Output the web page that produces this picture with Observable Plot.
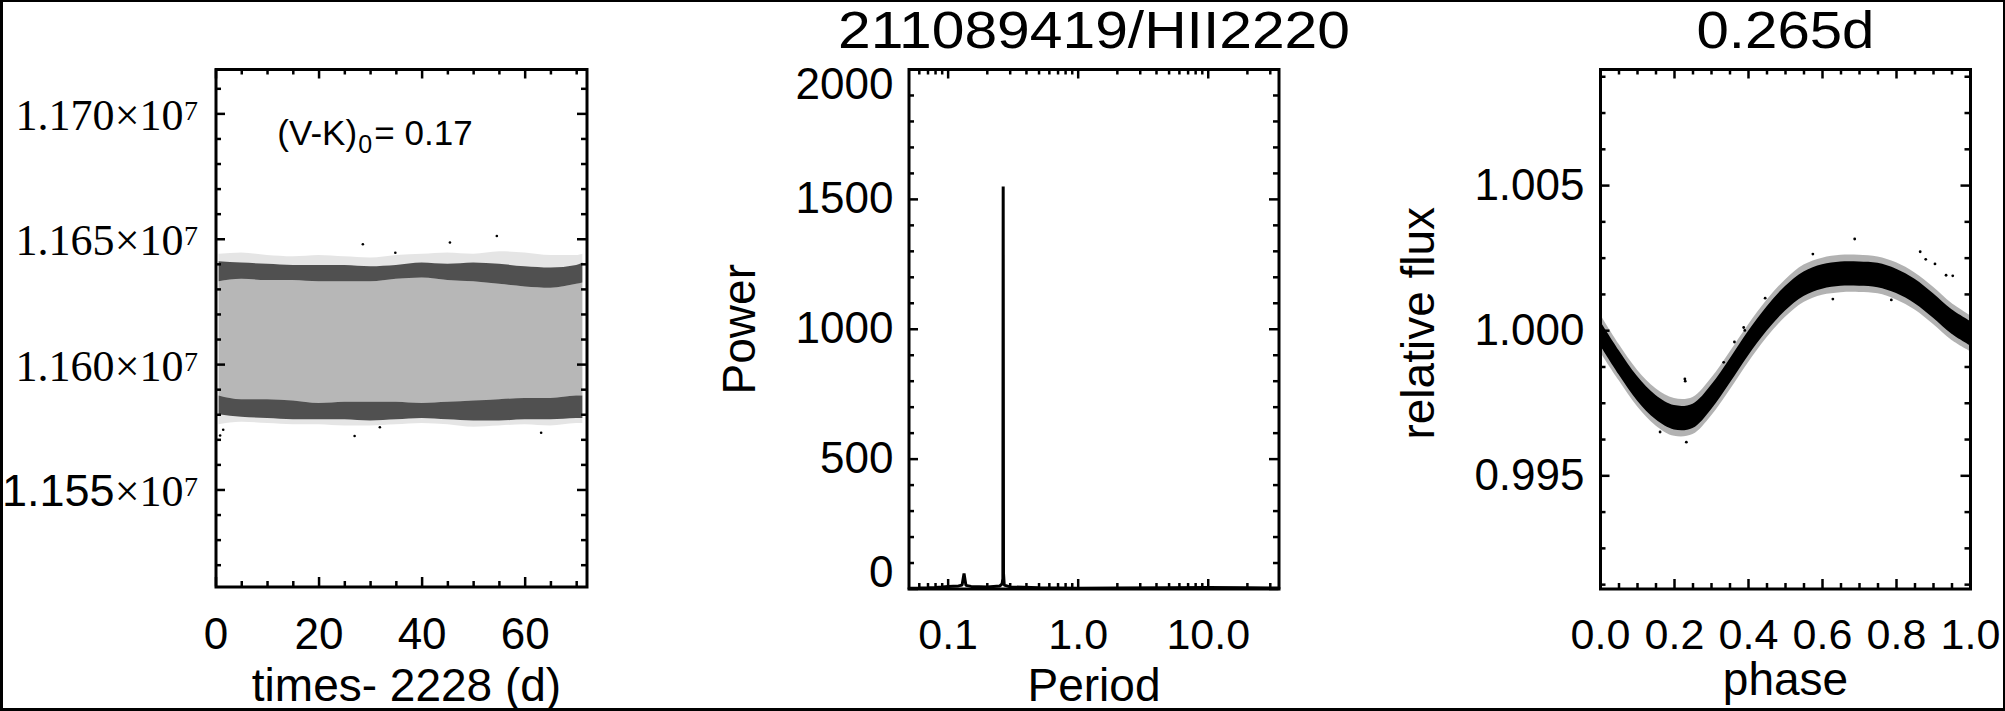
<!DOCTYPE html>
<html><head><meta charset="utf-8">
<script src="https://cdn.jsdelivr.net/npm/d3@7"></script>
<script src="https://cdn.jsdelivr.net/npm/@observablehq/plot@0.6"></script>
<style>
html,body{margin:0;padding:0;background:#fff;}
#wrap{position:relative;width:2005px;height:711px;background:#fff;overflow:hidden;}
#wrap svg{position:absolute;left:0;top:0;}
#border{position:absolute;left:0;top:0;width:2005px;height:711px;box-sizing:border-box;border:2px solid #000;border-left-width:3px;border-bottom-width:3px;pointer-events:none;z-index:5;}
</style></head><body>
<div id="wrap"><div id="border"></div></div>
<script>
// ---------- Panel 1: light curve (flux vs time - 2228 d) ----------
const lcXDomain = [0, 72];
const lcYDomain = [11511300, 11717700];
const lcTime     = [0.6, 5, 10, 15, 20, 25, 30, 35, 40, 45, 50, 55, 60, 65, 70, 71.2];
const lcOuterTop = [11644000, 11644500, 11643500, 11643000, 11643500, 11643000, 11642500, 11643500, 11644000, 11644500, 11644000, 11645000, 11644500, 11643500, 11643500, 11644000];
const lcTopHi    = [11641000, 11640500, 11640000, 11639500, 11639500, 11639500, 11639000, 11639500, 11640500, 11640000, 11640500, 11640000, 11639000, 11638500, 11639500, 11640500];
const lcTopLo    = [11633000, 11634000, 11633500, 11633500, 11633000, 11633000, 11633000, 11634000, 11634500, 11633500, 11633000, 11632000, 11631000, 11630500, 11632000, 11632500];
const lcBotHi    = [11587500, 11586000, 11586000, 11585500, 11584500, 11585000, 11585000, 11585000, 11584500, 11585000, 11585500, 11586000, 11586500, 11586500, 11587500, 11587500];
const lcBotLo    = [11580000, 11579000, 11578500, 11578000, 11578000, 11578000, 11577500, 11578000, 11578500, 11578000, 11577500, 11577500, 11578000, 11578000, 11578500, 11578500];
const lcOuterBot = [11576000, 11577000, 11576500, 11576000, 11576000, 11575500, 11575500, 11576000, 11576500, 11576000, 11575000, 11575500, 11576000, 11575500, 11576500, 11576500];
const lcOutT = [45.4, 54.5, 26.9, 63.1, 31.8, 1.4, 0.8, 28.5, 34.8];
const lcOutF = [11648700, 11651300, 11571500, 11572800, 11575000, 11574000, 11571700, 11648000, 11644600];
const lcXMajor = [0, 20, 40, 60];
const lcXLabels = ["0", "20", "40", "60"];
const lcXMinor = [5, 10, 15, 25, 30, 35, 45, 50, 55, 65, 70];
const lcYMajor = [11550000, 11600000, 11650000, 11700000];
const lcYMant  = ["1.155", "1.160", "1.165", "1.170"];
const lcYMinor = [11520000, 11530000, 11540000, 11560000, 11570000, 11580000, 11590000, 11610000, 11620000, 11630000, 11640000, 11660000, 11670000, 11680000, 11690000, 11710000];
const vkPos = [11.9, 11687500];

// ---------- Panel 2: periodogram ----------
const pgXDomain = [0.05, 35];
const pgYDomain = [0, 2000];
const pgPeriod = [0.05, 0.06, 0.07, 0.08, 0.09, 0.1, 0.12, 0.128, 0.1325, 0.137, 0.15, 0.2, 0.25, 0.26, 0.2635, 0.265, 0.2665, 0.27, 0.3, 0.5, 1, 2, 5, 10, 20, 35];
const pgPower  = [3, 4, 5, 6, 8, 10, 12, 15, 60, 14, 10, 8, 12, 20, 40, 1550, 60, 15, 8, 5, 3, 4, 5, 6, 5, 4];
const pgXMajor = [0.1, 1, 10];
const pgXLabels = ["0.1", "1.0", "10.0"];
const pgXMinor = [0.06, 0.07, 0.08, 0.09, 0.2, 0.3, 0.4, 0.5, 0.6, 0.7, 0.8, 0.9, 2, 3, 4, 5, 6, 7, 8, 9, 20, 30];
const pgYMajor = [0, 500, 1000, 1500, 2000];
const pgYLabels = ["0", "500", "1000", "1500", "2000"];
const pgYMinor = [100, 200, 300, 400, 600, 700, 800, 900, 1100, 1200, 1300, 1400, 1600, 1700, 1800, 1900];

// ---------- Panel 3: phased light curve ----------
const phXDomain = [0, 1];
const phYDomain = [0.9911, 1.0090];
const phGrid   = [0, 0.05, 0.1, 0.15, 0.2, 0.25, 0.3, 0.35, 0.4, 0.45, 0.5, 0.55, 0.6, 0.65, 0.7, 0.75, 0.8, 0.85, 0.9, 0.95, 1.0];
const phCoreLo = [0.99948, 0.99848, 0.99758, 0.99693, 0.99658, 0.99663, 0.99728, 0.99818, 0.99913, 0.99998, 1.00068, 1.00118, 1.00143, 1.00153, 1.00153, 1.00148, 1.00128, 1.00093, 1.00043, 0.99988, 0.99948];
const phCoreHi = [1.00032, 0.99932, 0.99842, 0.99777, 0.99742, 0.99747, 0.99812, 0.99902, 0.99997, 1.00082, 1.00152, 1.00202, 1.00227, 1.00237, 1.00237, 1.00232, 1.00212, 1.00177, 1.00127, 1.00072, 1.00032];
const phFuzzLo = [0.99925, 0.99828, 0.99738, 0.99672, 0.99636, 0.99642, 0.99706, 0.99795, 0.99890, 0.99976, 1.00046, 1.00097, 1.00122, 1.00131, 1.00132, 1.00127, 1.00106, 1.00071, 1.00021, 0.99966, 0.99928];
const phFuzzHi = [1.00055, 0.99953, 0.99864, 0.99800, 0.99766, 0.99770, 0.99836, 0.99926, 1.00020, 1.00105, 1.00175, 1.00226, 1.00250, 1.00260, 1.00260, 1.00254, 1.00234, 1.00199, 1.00150, 1.00094, 1.00052];
const phOutP = [0.229, 0.445, 0.39, 0.362, 0.333, 0.952, 0.786, 0.628, 0.232, 0.161, 0.879, 0.904, 0.687, 0.864, 0.574, 0.934, 0.228, 0.387];
const phOutF = [0.99826, 1.00112, 1.00001, 0.99961, 0.99891, 1.00189, 1.00106, 1.00109, 0.99616, 0.99651, 1.00246, 1.00230, 1.00316, 1.00272, 1.00264, 1.00191, 0.99834, 1.00011];
const phXMajor = [0, 0.2, 0.4, 0.6, 0.8, 1.0];
const phXLabels = ["0.0", "0.2", "0.4", "0.6", "0.8", "1.0"];
const phXMinor = [0.05, 0.1, 0.15, 0.25, 0.3, 0.35, 0.45, 0.5, 0.55, 0.65, 0.7, 0.75, 0.85, 0.9, 0.95];
const phYMajor = [0.995, 1.000, 1.005];
const phYLabels = ["0.995", "1.000", "1.005"];
const phYMinor = [0.99125, 0.9925, 0.99375, 0.99625, 0.9975, 0.99875, 1.00125, 1.0025, 1.00375, 1.00625, 1.0075, 1.00875];

const titleText = "211089419/HII2220";
const periodText = "0.265d";

// ---------- helpers ----------
const W = 2005, H = 711;
const SANS = "'Liberation Sans', Arial, Helvetica, sans-serif";
const SERIF = "'Liberation Serif', 'Times New Roman', serif";
const wrap = document.getElementById("wrap");

function box(xMaj, xMin, yMaj, yMin, fw, fh) {
  const LM = 9.5, Lm = 5.5;
  const o = {stroke: "black", strokeWidth: 2.5};
  return [
    Plot.tickX(xMaj, {x: d => d, insetTop: fh - LM, ...o}),
    Plot.tickX(xMaj, {x: d => d, insetBottom: fh - LM, ...o}),
    Plot.tickX(xMin, {x: d => d, insetTop: fh - Lm, ...o}),
    Plot.tickX(xMin, {x: d => d, insetBottom: fh - Lm, ...o}),
    Plot.tickY(yMaj, {y: d => d, insetRight: fw - LM, ...o}),
    Plot.tickY(yMaj, {y: d => d, insetLeft: fw - LM, ...o}),
    Plot.tickY(yMin, {y: d => d, insetRight: fw - Lm, ...o}),
    Plot.tickY(yMin, {y: d => d, insetLeft: fw - Lm, ...o}),
    Plot.frame({stroke: "black", strokeWidth: 3})
  ];
}
// the original's title font is set wider than Arial: fit the title text to its measured length
function fitLength(svg, content, len) {
  svg.querySelectorAll("text").forEach(t => {
    if (t.textContent === content) {
      t.setAttribute("textLength", len);
      t.setAttribute("lengthAdjust", "spacingAndGlyphs");
    }
  });
}
const baseStyle = {fontFamily: SANS, background: "transparent", overflow: "visible"};
const TICKFS = 43;

// ---------- Panel 1 ----------
{
  const mL = 215.5, right = 586.5, mT = 69, bottom = 586.5;
  const fw = right - mL, fh = bottom - mT;
  const p = Plot.plot({
    width: W, height: H,
    marginLeft: mL, marginRight: W - right, marginTop: mT, marginBottom: H - bottom,
    x: {domain: lcXDomain, axis: null},
    y: {domain: lcYDomain, axis: null},
    style: baseStyle,
    marks: [
      Plot.areaY(lcTime, {x: lcTime, y1: lcOuterBot, y2: lcOuterTop, fill: "black", fillOpacity: 0.1, curve: "monotone-x"}),
      Plot.areaY(lcTime, {x: lcTime, y1: lcBotHi, y2: lcTopLo, fill: "black", fillOpacity: 0.2, curve: "monotone-x"}),
      Plot.areaY(lcTime, {x: lcTime, y1: lcTopLo, y2: lcTopHi, fill: "black", fillOpacity: 0.65, curve: "monotone-x"}),
      Plot.areaY(lcTime, {x: lcTime, y1: lcBotLo, y2: lcBotHi, fill: "black", fillOpacity: 0.65, curve: "monotone-x"}),
      Plot.dot(lcOutT, {x: lcOutT, y: lcOutF, r: 1.3, fill: "black", stroke: null}),
      ...box(lcXMajor, lcXMinor, lcYMajor, lcYMinor, fw, fh),
      // x tick labels
      Plot.text(lcXMajor, {x: d => d, text: (d, i) => lcXLabels[i], frameAnchor: "bottom", textAnchor: "middle", dy: 62, lineAnchor: "bottom", fontSize: TICKFS + 1}),
      // y tick labels: mantissa, x10, superscript
      Plot.text(lcYMajor.slice(1), {y: d => d, text: (d, i) => lcYMant[i + 1], frameAnchor: "left", textAnchor: "end", lineAnchor: "middle", dx: -101.5, dy: 2, fontFamily: SERIF, fontSize: 44}),
      Plot.text(lcYMajor.slice(0, 1), {y: d => d, text: (d, i) => lcYMant[i], frameAnchor: "left", textAnchor: "end", lineAnchor: "middle", dx: -101.5, dy: 2, fontFamily: SANS, fontSize: 45}),
      Plot.text(lcYMajor, {y: d => d, text: () => "\u00d710", frameAnchor: "left", textAnchor: "end", lineAnchor: "middle", dx: -32.5, dy: 2, fontFamily: SERIF, fontSize: 44}),
      Plot.text(lcYMajor, {y: d => d, text: () => "7", frameAnchor: "left", textAnchor: "start", lineAnchor: "bottom", dx: -32, dy: 6, fontFamily: SERIF, fontSize: 28}),
      // axis title
      Plot.text(["times- 2228 (d)"], {text: d => d, frameAnchor: "bottom", textAnchor: "middle", dy: 114, dx: 5, lineAnchor: "bottom", fontSize: 46}),
      // annotation (V-K)0 = 0.17
      Plot.text([0], {x: [vkPos[0]], y: [vkPos[1]], text: ["(V-K)"], textAnchor: "start", lineAnchor: "bottom", fontSize: 35}),
      Plot.text([0], {x: [vkPos[0]], y: [vkPos[1]], text: ["0"], textAnchor: "start", lineAnchor: "bottom", dx: 81, dy: 8, fontSize: 25}),
      Plot.text([0], {x: [vkPos[0]], y: [vkPos[1]], text: ["= 0.17"], textAnchor: "start", lineAnchor: "bottom", dx: 97, fontSize: 35})
    ]
  });
  wrap.appendChild(p);
}

// ---------- Panel 2 ----------
{
  const mL = 908.5, right = 1278.5, mT = 69, bottom = 588.5;
  const fw = right - mL, fh = bottom - mT;
  const p = Plot.plot({
    width: W, height: H,
    marginLeft: mL, marginRight: W - right, marginTop: mT, marginBottom: H - bottom,
    x: {type: "log", domain: pgXDomain, axis: null},
    y: {domain: pgYDomain, axis: null},
    style: baseStyle,
    marks: [
      Plot.line(pgPeriod, {x: pgPeriod, y: pgPower, stroke: "black", strokeWidth: 3, strokeLinejoin: "bevel"}),
      ...box(pgXMajor, pgXMinor, pgYMajor, pgYMinor, fw, fh),
      Plot.text(pgXMajor, {x: d => d, text: (d, i) => pgXLabels[i], frameAnchor: "bottom", textAnchor: "middle", dy: 60, lineAnchor: "bottom", fontSize: TICKFS}),
      Plot.text(pgYMajor.slice(1, 4), {y: d => d, text: (d, i) => pgYLabels[i + 1], frameAnchor: "left", textAnchor: "end", lineAnchor: "middle", dx: -15.5, fontSize: TICKFS + 1}),
      Plot.text(pgYMajor.slice(0, 1), {y: d => d, text: () => pgYLabels[0], frameAnchor: "left", textAnchor: "end", lineAnchor: "middle", dx: -15.5, dy: -16, fontSize: TICKFS + 1}),
      Plot.text(pgYMajor.slice(4), {y: d => d, text: () => pgYLabels[4], frameAnchor: "left", textAnchor: "end", lineAnchor: "middle", dx: -15.5, dy: 15, fontSize: TICKFS + 1}),
      Plot.text(["Period"], {text: d => d, frameAnchor: "bottom", textAnchor: "middle", dy: 112, lineAnchor: "bottom", fontSize: 46}),
      Plot.text(["Power"], {text: d => d, frameAnchor: "left", textAnchor: "middle", rotate: -90, dx: -154.5, lineAnchor: "bottom", fontSize: 46}),
      Plot.text([titleText], {text: d => d, frameAnchor: "top", textAnchor: "middle", dy: -21.5, lineAnchor: "bottom", fontSize: 51})
    ]
  });
  fitLength(p, titleText, 512);
  wrap.appendChild(p);
}

// ---------- Panel 3 ----------
{
  const mL = 1600, right = 1970, mT = 69, bottom = 588.5;
  const fw = right - mL, fh = bottom - mT;
  const p = Plot.plot({
    width: W, height: H,
    marginLeft: mL, marginRight: W - right, marginTop: mT, marginBottom: H - bottom,
    x: {domain: phXDomain, axis: null},
    y: {domain: phYDomain, axis: null},
    style: baseStyle,
    marks: [
      Plot.areaY(phGrid, {x: phGrid, y1: phFuzzLo, y2: phFuzzHi, fill: "black", fillOpacity: 0.3, curve: "catmull-rom"}),
      Plot.areaY(phGrid, {x: phGrid, y1: phCoreLo, y2: phCoreHi, fill: "black", fillOpacity: 1, curve: "catmull-rom"}),
      Plot.dot(phOutP, {x: phOutP, y: phOutF, r: 1.4, fill: "black", stroke: null}),
      ...box(phXMajor, phXMinor, phYMajor, phYMinor, fw, fh),
      Plot.text(phXMajor, {x: d => d, text: (d, i) => phXLabels[i], frameAnchor: "bottom", textAnchor: "middle", dy: 60, lineAnchor: "bottom", fontSize: TICKFS}),
      Plot.text(phYMajor, {y: d => d, text: (d, i) => phYLabels[i], frameAnchor: "left", textAnchor: "end", lineAnchor: "middle", dx: -16, fontSize: TICKFS + 1}),
      Plot.text(["phase"], {text: d => d, frameAnchor: "bottom", textAnchor: "middle", dy: 106, lineAnchor: "bottom", fontSize: 46}),
      Plot.text(["relative flux"], {text: d => d, frameAnchor: "left", textAnchor: "middle", rotate: -90, dx: -167, dy: -6, lineAnchor: "bottom", fontSize: 46}),
      Plot.text([periodText], {text: d => d, frameAnchor: "top", textAnchor: "middle", dy: -21.5, lineAnchor: "bottom", fontSize: 51})
    ]
  });
  fitLength(p, periodText, 178);
  wrap.appendChild(p);
}
</script>
</body></html>
